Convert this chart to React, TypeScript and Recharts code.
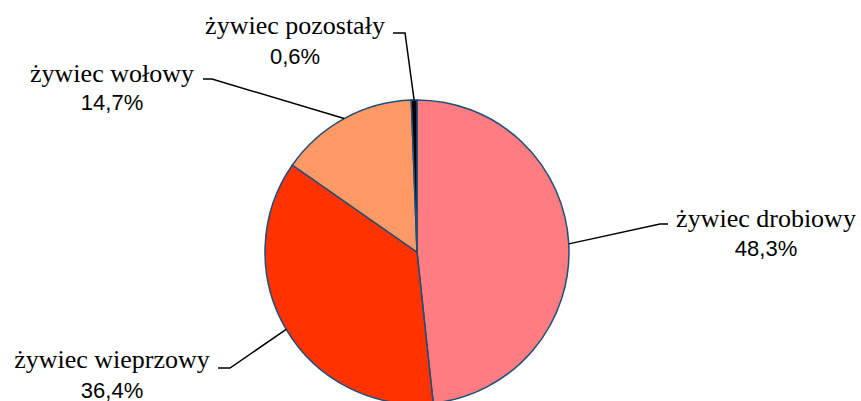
import { PieChart, Pie, Cell } from 'recharts';

// Struktura skupu żywca (%)
const CATEGORIES = ['żywiec drobiowy', 'żywiec wieprzowy', 'żywiec wołowy', 'żywiec pozostały'];
const SHARES = [48.3, 36.4, 14.7, 0.6];
const COLORS = ['#FF7C80', '#FF3300', '#FF9966', '#000000'];

// label placement relative to pie centre: elbow, line end, text centre, baselines
const LABEL_POS = [
    { ex: 243, ey: -28, lx: 251, tx: 349, y1: -25, y2: 4 },
    { ex: -187, ey: 116, lx: -199, tx: -305, y1: 116, y2: 146 },
    { ex: -205, ey: -173, lx: -214, tx: -305, y1: -170, y2: -142 },
    { ex: -12, ey: -219, lx: -24, tx: -122, y1: -218, y2: -188 },
];

const data = CATEGORIES.map((name, i) => ({ name, value: SHARES[i] }));

const RADIAN = Math.PI / 180;
const SERIF = '"Liberation Serif", "Times New Roman", serif';
const SANS = '"Liberation Sans", Arial, sans-serif';

// eslint-disable-next-line @typescript-eslint/no-explicit-any
function renderLabel(props: any) {
    const { cx, cy, midAngle, outerRadius, index, name, value } = props;
    const p = LABEL_POS[index];
    const sx = cx + outerRadius * Math.cos(-midAngle * RADIAN);
    const sy = cy + outerRadius * Math.sin(-midAngle * RADIAN);
    return (
        <g key={`lbl-${index}`}>
            <polyline
                points={`${sx},${sy} ${cx + p.ex},${cy + p.ey} ${cx + p.lx},${cy + p.ey}`}
                fill="none"
                stroke="#000"
                strokeWidth={1.5}
            />
            <text x={cx + p.tx} y={cy + p.y1} textAnchor="middle" style={{ fontFamily: SERIF, fontSize: 26 }} fill="#000">
                {name}
            </text>
            <text x={cx + p.tx} y={cy + p.y2} textAnchor="middle" style={{ fontFamily: SANS, fontSize: 22 }} fill="#000">
                {value.toFixed(1).replace('.', ',')}%
            </text>
        </g>
    );
}

export default function App() {
    return (
        <div style={{ position: 'absolute', left: 0, top: 0, background: '#fff' }}>
            <PieChart width={861} height={401} margin={{ top: 0, right: 0, bottom: 0, left: 0 }}>
                <Pie
                    data={data}
                    dataKey="value"
                    nameKey="name"
                    cx={417}
                    cy={252}
                    outerRadius={152}
                    startAngle={90}
                    endAngle={-270}
                    stroke="#1F4E79"
                    strokeWidth={1.5}
                    label={renderLabel}
                    labelLine={false}
                    isAnimationActive={false}
                >
                    {data.map((_, i) => (
                        <Cell key={`cell-${i}`} fill={COLORS[i]} />
                    ))}
                </Pie>
            </PieChart>
        </div>
    );
}
